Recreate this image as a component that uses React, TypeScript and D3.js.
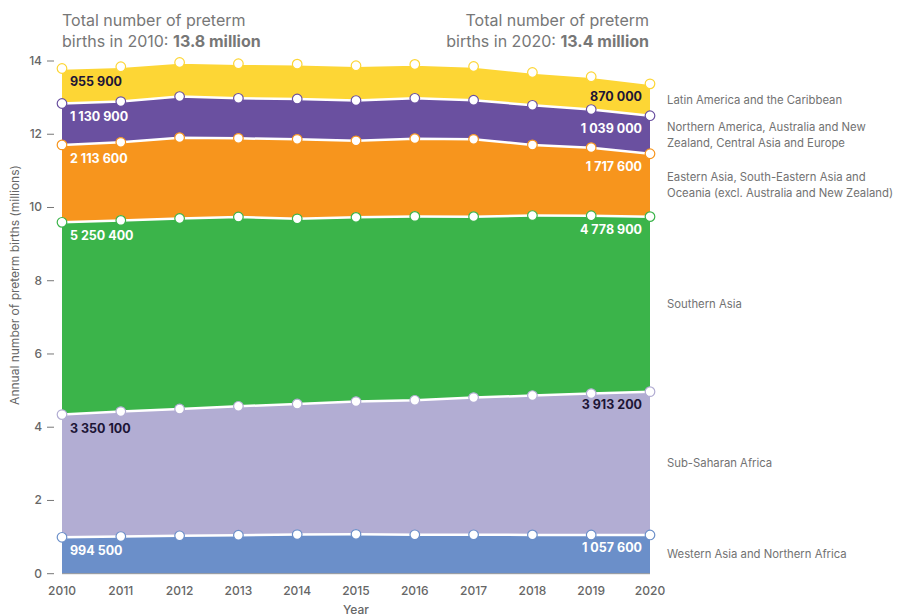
import React, { useEffect, useRef } from "react";
import * as d3 from "d3";

// values in millions
const years = [2010, 2011, 2012, 2013, 2014, 2015, 2016, 2017, 2018, 2019, 2020];
const westernAsia = [0.9945, 1.015, 1.035, 1.05, 1.068, 1.075, 1.062, 1.062, 1.06, 1.058, 1.0576];
const subSaharan = [3.3501, 3.412, 3.463, 3.521, 3.566, 3.625, 3.673, 3.747, 3.804, 3.86, 3.9132];
const southernAsia = [5.2504, 5.22, 5.202, 5.169, 5.056, 5.03, 5.021, 4.941, 4.916, 4.857, 4.7789];
const easternAsia = [2.1136, 2.132, 2.207, 2.148, 2.171, 2.09, 2.124, 2.111, 1.928, 1.859, 1.7176];
const northernAmerica = [1.1309, 1.113, 1.122, 1.094, 1.102, 1.1, 1.102, 1.067, 1.083, 1.04, 1.039];
const latinAmerica = [0.9559, 0.951, 0.931, 0.943, 0.951, 0.95, 0.924, 0.923, 0.896, 0.896, 0.87];

const seriesKeys = ["wa", "ssa", "sa", "ea", "na", "la"];
const seriesValues = [westernAsia, subSaharan, southernAsia, easternAsia, northernAmerica, latinAmerica];
const seriesNames = [
  ["Western Asia and Northern Africa"],
  ["Sub-Saharan Africa"],
  ["Southern Asia"],
  ["Eastern Asia, South-Eastern Asia and", "Oceania (excl. Australia and New Zealand)"],
  ["Northern America, Australia and New", "Zealand, Central Asia and Europe"],
  ["Latin America and the Caribbean"],
];
const startLabels = ["994 500", "3 350 100", "5 250 400", "2 113 600", "1 130 900", "955 900"];
const endLabels = ["1 057 600", "3 913 200", "4 778 900", "1 717 600", "1 039 000", "870 000"];
const colors = ["#6b8fc9", "#b2add3", "#3bb44a", "#f7951d", "#6a50a0", "#fdd635"];
const labelColors = ["#fff", "#1d1536", "#fff", "#fff", "#fff", "#1d1536"];
const yTicks = [0, 2, 4, 6, 8, 10, 12, 14];

const App: React.FC = () => {
  const svgRef = useRef<SVGSVGElement | null>(null);

  useEffect(() => {
    const font = "Inter, 'Noto Sans', sans-serif";
    const svg = d3.select(svgRef.current);
    svg.selectAll("*").remove();

    const rows = years.map((year, i) => {
      const row: any = { year };
      seriesKeys.forEach((k, j) => (row[k] = seriesValues[j][i]));
      return row;
    });
    const stacked = d3.stack().keys(seriesKeys)(rows);

    const x = d3.scaleLinear().domain([2010, 2020]).range([62, 650]);
    const y = d3.scaleLinear().domain([0, 14]).range([573.7, 61]);

    const area = d3
      .area<any>()
      .x((d) => x(d.data.year))
      .y0((d) => y(d[0]))
      .y1((d) => y(d[1]));
    const topLine = d3
      .line<any>()
      .x((d) => x(d.data.year))
      .y((d) => y(d[1]));

    // areas
    svg
      .selectAll("path.area")
      .data(stacked)
      .enter()
      .append("path")
      .attr("class", "area")
      .attr("d", area as any)
      .attr("fill", (_, i) => colors[i]);

    // baseline
    svg
      .append("line")
      .attr("x1", x(2010))
      .attr("x2", x(2020))
      .attr("y1", y(0))
      .attr("y2", y(0))
      .attr("stroke", "#9a9a9a")
      .attr("stroke-width", 1);

    // white boundary lines
    svg
      .selectAll("path.edge")
      .data(stacked)
      .enter()
      .append("path")
      .attr("class", "edge")
      .attr("d", topLine as any)
      .attr("fill", "none")
      .attr("stroke", "#fff")
      .attr("stroke-width", 2.5);

    // points
    stacked.forEach((s, i) => {
      svg
        .append("g")
        .selectAll("circle")
        .data(s)
        .enter()
        .append("circle")
        .attr("cx", (d: any) => x(d.data.year))
        .attr("cy", (d) => y(d[1]))
        .attr("r", 4.8)
        .attr("fill", "#fff")
        .attr("stroke", colors[i])
        .attr("stroke-width", 1.2);
    });

    // value labels at both ends
    stacked.forEach((s, i) => {
      svg
        .append("text")
        .attr("x", x(2010) + 8)
        .attr("y", y(s[0][1]) + 18)
        .attr("fill", labelColors[i])
        .style("font", `700 12.5px ${font}`)
        .text(startLabels[i]);
      svg
        .append("text")
        .attr("x", x(2020) - 8)
        .attr("y", y(s[s.length - 1][1]) + 17)
        .attr("text-anchor", "end")
        .attr("fill", labelColors[i])
        .style("font", `700 12.5px ${font}`)
        .text(endLabels[i]);
    });

    // legend labels next to the 2020 bands
    stacked.forEach((s, i) => {
      const last = s[s.length - 1];
      const mid = y((last[0] + last[1]) / 2);
      const lines = seriesNames[i];
      const t = svg
        .append("text")
        .attr("x", 667)
        .attr("fill", "#727272")
        .style("font", `400 11.3px ${font}`);
      lines.forEach((ln, k) => {
        t.append("tspan")
          .attr("x", 667)
          .attr("y", mid + 4 + (k - (lines.length - 1) / 2) * 16)
          .text(ln);
      });
    });

    // y axis ticks
    const yAxis = svg.append("g");
    yTicks.forEach((t) => {
      yAxis
        .append("line")
        .attr("x1", 47)
        .attr("x2", 54)
        .attr("y1", y(t))
        .attr("y2", y(t))
        .attr("stroke", "#777")
        .attr("stroke-width", 1);
      yAxis
        .append("text")
        .attr("x", 42)
        .attr("y", y(t) + 4)
        .attr("text-anchor", "end")
        .attr("fill", "#666")
        .style("font", `500 12px ${font}`)
        .text(t);
    });

    // x axis labels
    svg
      .append("g")
      .selectAll("text")
      .data(years)
      .enter()
      .append("text")
      .attr("x", (d) => x(d))
      .attr("y", 595)
      .attr("text-anchor", "middle")
      .attr("fill", "#666")
      .style("font", `500 12px ${font}`)
      .text((d) => d);

    svg
      .append("text")
      .attr("x", x(2015))
      .attr("y", 614)
      .attr("text-anchor", "middle")
      .attr("fill", "#666")
      .style("font", `500 12px ${font}`)
      .text("Year");

    svg
      .append("text")
      .attr("transform", `translate(19, 285) rotate(-90)`)
      .attr("text-anchor", "middle")
      .attr("fill", "#666")
      .style("font", `400 12px ${font}`)
      .text("Annual number of preterm births (millions)");

    // totals
    const notes = [
      { x: 62, anchor: "start", year: "2010", total: "13.8 million" },
      { x: 649, anchor: "end", year: "2020", total: "13.4 million" },
    ];
    notes.forEach((n) => {
      svg
        .append("text")
        .attr("x", n.x)
        .attr("y", 26)
        .attr("text-anchor", n.anchor)
        .attr("fill", "#777")
        .style("font", `400 16px ${font}`)
        .text("Total number of preterm");
      const t2 = svg
        .append("text")
        .attr("x", n.x)
        .attr("y", 47)
        .attr("text-anchor", n.anchor)
        .attr("fill", "#777")
        .style("font", `400 16px ${font}`);
      t2.append("tspan").text(`births in ${n.year}: `);
      t2.append("tspan").attr("font-weight", 700).text(n.total);
    });
  }, []);

  return (
    <svg
      ref={svgRef}
      width={902}
      height={616}
      style={{ position: "absolute", left: 0, top: 0, background: "#fff" }}
    ></svg>
  );
};

export default App;
